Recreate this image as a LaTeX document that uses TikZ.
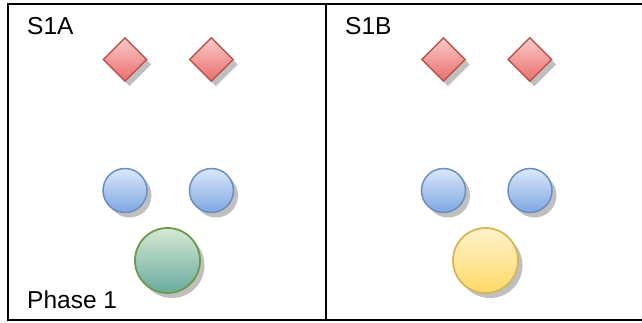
\documentclass[tikz,border=0pt]{standalone}
\usepackage{fontspec}
\setmainfont{Liberation Sans}
\usetikzlibrary{positioning, shapes.geometric, shadows}
\definecolor{redtop}{HTML}{F9CACA}
\definecolor{redbot}{HTML}{EA6E6B}
\definecolor{redline}{HTML}{B85450}
\definecolor{bluetop}{HTML}{DAE8FC}
\definecolor{bluebot}{HTML}{7EA6E0}
\definecolor{blueline}{HTML}{6C8EBF}
\definecolor{greentop}{HTML}{D5E8D4}
\definecolor{greenbot}{HTML}{67AB9F}
\definecolor{greenline}{HTML}{6A9A4A}
\definecolor{yelltop}{HTML}{FFF2CC}
\definecolor{yellbot}{HTML}{FFD966}
\definecolor{yellline}{HTML}{D6B656}
\tikzset{
  shade/.style={drop shadow={shadow xshift=4.5pt, shadow yshift=-5pt,
                             fill=black!25, opacity=1}},
  gem/.style={diamond, draw=redline, line width=1.4pt, shade,
              top color=redtop, bottom color=redbot,
              minimum size=44pt, inner sep=0pt},
  dot/.style={circle, draw=blueline, line width=1.5pt, shade,
              top color=bluetop, bottom color=bluebot,
              minimum size=44pt, inner sep=0pt},
  big/.style={circle, line width=1.8pt, shade,
              minimum size=65pt, inner sep=0pt},
  lbl/.style={anchor=base west, inner sep=0pt,
              font=\fontsize{24.5}{29}\selectfont},
  frame/.style={line width=2.2pt, line cap=rect},
}

\begin{document}
\begin{tikzpicture}[x=1pt, y=-1pt, node distance=41pt]
  \useasboundingbox (0,0) rectangle (642,322);

  % panes
  \draw[frame] (642,4) -- (8,4) -- (8,320) -- (642,320);
  \draw[frame] (326,4) -- (326,320);

  % left pane
  \node[lbl] (nameA)  at (27,34)  {S1A};
  \node[lbl] (phase)  at (27,308) {Phase 1};
  \node[gem] (gemA1)  at (125,59.5) {};
  \node[gem, right=of gemA1] (gemA2) {};
  \node[dot] (dotA1)  at (125,190.5) {};
  \node[dot, right=of dotA1] (dotA2) {};
  \node[big, draw=greenline, top color=greentop, bottom color=greenbot]
       (hubA) at (167.5,260.5) {};

  % right pane
  \node[lbl] (nameB)  at (345,34) {S1B};
  \node[gem] (gemB1)  at (443.5,59.5) {};
  \node[gem, right=of gemB1] (gemB2) {};
  \node[dot] (dotB1)  at (443.5,190.5) {};
  \node[dot, right=of dotB1] (dotB2) {};
  \node[big, draw=yellline, top color=yelltop, bottom color=yellbot]
       (hubB) at (485.5,260.5) {};
\end{tikzpicture}
\end{document}
